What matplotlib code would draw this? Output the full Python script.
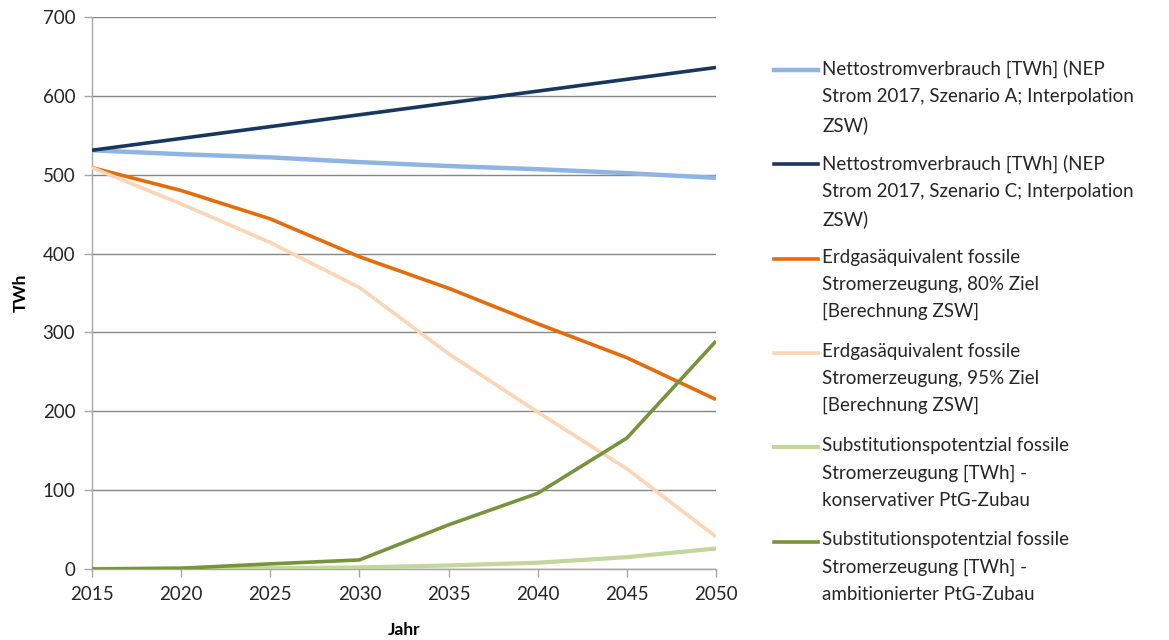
import matplotlib
matplotlib.use("Agg")
import matplotlib.pyplot as plt
from matplotlib.lines import Line2D

plt.rcParams['font.family'] = ['Lato', 'DejaVu Sans']

years = [2015, 2020, 2025, 2030, 2035, 2040, 2045, 2050]

verbrauch_a = [531, 526, 522, 516, 511, 507, 502, 496]
verbrauch_c = [531, 546, 561, 576, 591, 606, 621, 636]
erdgas_80 = [509, 480, 444, 396, 356, 311, 268, 215]
erdgas_95 = [509, 463, 414, 357, 273, 199, 127, 41]
subst_konservativ = [0, 0.5, 1, 2, 4.5, 8, 15, 26]
subst_ambitioniert = [0, 1, 6.5, 11.5, 56, 96, 166, 289]

labels = [
    "Nettostromverbrauch [TWh] (NEP\nStrom 2017, Szenario A; Interpolation\nZSW)",
    "Nettostromverbrauch [TWh] (NEP\nStrom 2017, Szenario C; Interpolation\nZSW)",
    "Erdgasäquivalent fossile\nStromerzeugung, 80% Ziel\n[Berechnung ZSW]",
    "Erdgasäquivalent fossile\nStromerzeugung, 95% Ziel\n[Berechnung ZSW]",
    "Substitutionspotentzial fossile\nStromerzeugung [TWh] -\nkonservativer PtG-Zubau",
    "Substitutionspotentzial fossile\nStromerzeugung [TWh] -\nambitionierter PtG-Zubau",
]
colors = ["#8EB4E3", "#17375E", "#E46C0A", "#FCD5B5", "#C3D69B", "#77933C"]
widths = [3.2, 2.6, 2.6, 2.6, 3.0, 2.6]
series = [verbrauch_a, verbrauch_c, erdgas_80, erdgas_95,
          subst_konservativ, subst_ambitioniert]

fig = plt.figure(figsize=(11.69, 6.40), dpi=100)
ax = fig.add_axes([92 / 1169, 1 - 569 / 640, (716 - 92) / 1169, (569 - 17) / 640])

draw_order = [4, 0, 1, 3, 2, 5]
for i in draw_order:
    ax.plot(years, series[i], color=colors[i], lw=widths[i],
            solid_joinstyle='round', solid_capstyle='butt', zorder=3 + i * 0.1)

ax.set_xlim(2015, 2050)
ax.set_ylim(0, 700)
ax.set_xticks(years)
ax.set_yticks(range(0, 701, 100))
ax.yaxis.grid(True, color="#868686", lw=1.0)
ax.set_axisbelow(True)
for s in ["top", "right"]:
    ax.spines[s].set_visible(False)
for s in ["left", "bottom"]:
    ax.spines[s].set_color("#A6A6A6")
    ax.spines[s].set_linewidth(1.0)
ax.tick_params(axis="both", direction="out", length=6, width=1.0,
               color="#A6A6A6", labelsize=13.5, labelcolor="#262626")
ax.tick_params(axis="x", pad=6)
ax.tick_params(axis="y", pad=6)

ax.set_xlabel("Jahr", fontsize=12.5, fontweight="bold", labelpad=14)
ax.set_ylabel("TWh", fontsize=12.5, fontweight="bold", labelpad=10)

# Legend drawn alongside the plot, one block per series
W, H = 1169, 640
top_y = 70
step = 94.3
for i, (lab, col) in enumerate(zip(labels, colors)):
    y = top_y + i * step
    fig.add_artist(Line2D([774 / W, 818 / W], [1 - y / H, 1 - y / H],
                          color=col, lw=widths[i], transform=fig.transFigure))
    fig.text(822 / W, 1 - (y - 10) / H, lab, ha="left", va="top",
             fontsize=13.5, color="#262626", linespacing=1.72)

fig.savefig("out.png", dpi=100)
